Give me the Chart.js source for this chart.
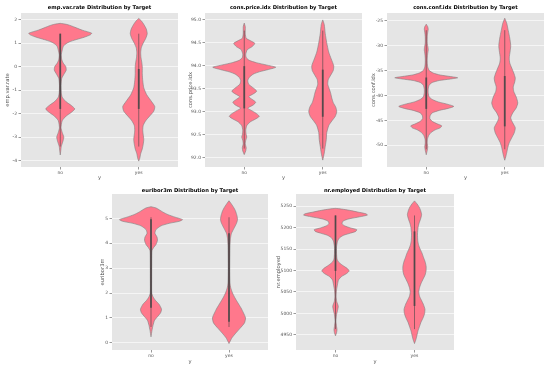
<!DOCTYPE html>
<html><head><meta charset="utf-8">
<script src="https://cdn.jsdelivr.net/npm/chart.js@4.4.1/dist/chart.umd.min.js"></script>
<style>
body{margin:0;background:#fff;width:550px;height:369px;overflow:hidden;position:relative;font-family:'DejaVu Sans',sans-serif}
canvas{position:absolute}
.t{position:absolute;width:200px;text-align:center;font-weight:bold;font-size:5.2px;line-height:6px;color:#000;white-space:nowrap;font-family:'DejaVu Sans',sans-serif}
</style>
</head><body>
<script>
// ---------- data ----------
const categories = ['no', 'yes'];

// emp.var.rate
const empTicks = ['-4','-3','-2','-1','0','1','2'];
const empNoY = [1.84,1.8,1.75,1.65,1.55,1.42,1.35,1.25,1.15,1.05,0.95,0.85,0.7,0.5,0.3,0.15,0,-0.15,-0.3,-0.5,-0.8,-1.1,-1.3,-1.5,-1.65,-1.8,-1.95,-2.1,-2.3,-2.6,-2.8,-3.0,-3.2,-3.4,-3.6,-3.76];
const empNoW = [0,0.076,0.127,0.204,0.28,0.401,0.382,0.306,0.204,0.115,0.064,0.038,0.025,0.013,0.019,0.038,0.07,0.076,0.051,0.019,0.01,0.013,0.025,0.076,0.14,0.185,0.14,0.076,0.025,0.01,0.025,0.045,0.032,0.013,0.006,0];
const empYesY = [2.05,1.95,1.8,1.6,1.4,1.2,1.0,0.8,0.6,0.4,0.2,0,-0.3,-0.6,-0.9,-1.2,-1.5,-1.7,-1.9,-2.1,-2.3,-2.5,-2.7,-2.9,-3.1,-3.3,-3.5,-3.7,-3.9,-4.02];
const empYesW = [0,0.032,0.064,0.096,0.108,0.089,0.057,0.032,0.025,0.028,0.038,0.045,0.045,0.051,0.064,0.102,0.166,0.204,0.191,0.14,0.089,0.057,0.051,0.057,0.064,0.057,0.045,0.025,0.013,0];
const empNoBox = [-1.8, 1.1, 1.4];      // q1, median, q3
const empYesBox = [-1.8, -1.8, -0.1];
const empNoWhisk = [-3.4, 1.4];
const empYesWhisk = [-3.4, 1.4];

// cons.price.idx
const priceTicks = ['92.0','92.5','93.0','93.5','94.0','94.5','95.0'];
const priceNoY = [94.93,94.85,94.7,94.6,94.55,94.49,94.42,94.35,94.25,94.18,94.12,94.07,94.02,93.97,93.92,93.87,93.82,93.75,93.68,93.6,93.52,93.45,93.39,93.33,93.27,93.21,93.15,93.08,93.02,92.95,92.9,92.84,92.78,92.7,92.6,92.5,92.45,92.38,92.3,92.22,92.15,92.07];
const priceNoW = [0,0.013,0.013,0.025,0.076,0.134,0.102,0.038,0.019,0.025,0.064,0.153,0.28,0.401,0.306,0.191,0.115,0.064,0.045,0.057,0.115,0.159,0.115,0.057,0.102,0.146,0.115,0.045,0.102,0.166,0.191,0.14,0.076,0.032,0.019,0.025,0.032,0.019,0.013,0.025,0.019,0];
const priceYesY = [95.0,94.9,94.7,94.5,94.3,94.15,94.0,93.9,93.8,93.7,93.6,93.5,93.4,93.3,93.2,93.1,93.0,92.9,92.8,92.7,92.55,92.4,92.25,92.1,91.95];
const priceYesW = [0,0.019,0.032,0.051,0.076,0.108,0.14,0.134,0.102,0.07,0.064,0.083,0.102,0.115,0.134,0.166,0.178,0.159,0.115,0.076,0.051,0.045,0.032,0.019,0];
const priceNoBox = [93.075, 93.918, 93.994];
const priceYesBox = [92.893, 93.2, 93.918];
const priceNoWhisk = [92.201, 94.767];
const priceYesWhisk = [92.201, 94.767];

// cons.conf.idx
const confTicks = ['-50','-45','-40','-35','-30','-25'];
const confNoY = [-25.7,-26.2,-26.7,-27.3,-28.2,-29.5,-30.4,-30.9,-31.5,-32.5,-33.5,-34.3,-35,-35.5,-35.9,-36.2,-36.45,-36.7,-37,-37.4,-37.9,-38.7,-39.5,-40.3,-40.8,-41.3,-41.8,-42.2,-42.6,-43,-43.5,-44,-44.6,-45.2,-45.7,-46.1,-46.5,-46.9,-47.4,-48,-48.8,-49.6,-50.3,-51,-51.9];
const confNoW = [0,0.019,0.025,0.019,0.013,0.013,0.023,0.025,0.019,0.013,0.013,0.019,0.038,0.089,0.178,0.306,0.401,0.306,0.166,0.076,0.038,0.025,0.025,0.038,0.076,0.153,0.28,0.35,0.28,0.166,0.076,0.051,0.045,0.076,0.14,0.197,0.178,0.115,0.064,0.032,0.015,0.013,0.019,0.013,0];
const confYesY = [-24.5,-25.5,-27,-28.5,-30,-31,-32.5,-33.5,-34.5,-35.5,-36.5,-37.3,-38.3,-39.2,-40.3,-41.5,-42.5,-43.5,-44.5,-45.5,-46.5,-47.5,-48.5,-49.5,-50.5,-51.5,-52.3,-53];
const confYesW = [0,0.025,0.045,0.064,0.076,0.07,0.057,0.064,0.089,0.115,0.134,0.127,0.108,0.115,0.146,0.166,0.146,0.102,0.076,0.102,0.134,0.121,0.089,0.057,0.038,0.025,0.013,0];
const confNoBox = [-42.7, -41.8, -36.4];
const confYesBox = [-46.2, -40.4, -36.1];
const confNoWhisk = [-50.8, -26.9];
const confYesWhisk = [-50.8, -26.9];

// euribor3m
const eurTicks = ['0','1','2','3','4','5'];
const eurNoY = [5.47,5.42,5.35,5.25,5.15,5.05,4.95,4.88,4.8,4.7,4.55,4.4,4.25,4.12,3.95,3.82,3.7,3.3,2.5,2.0,1.85,1.7,1.55,1.35,1.2,1.05,0.9,0.7,0.5,0.24];
const eurNoW = [0,0.064,0.103,0.154,0.218,0.308,0.404,0.359,0.231,0.128,0.064,0.051,0.077,0.083,0.064,0.032,0.013,0.01,0.009,0.01,0.026,0.058,0.103,0.135,0.122,0.083,0.045,0.026,0.013,0];
const eurYesY = [5.71,5.6,5.45,5.3,5.1,4.95,4.8,4.6,4.4,4.2,3.9,3.0,2.4,2.2,2.0,1.8,1.6,1.4,1.2,1.0,0.8,0.6,0.4,0.2,0.05,-0.03];
const eurYesW = [0,0.026,0.058,0.083,0.103,0.109,0.096,0.064,0.032,0.019,0.013,0.01,0.013,0.023,0.045,0.077,0.115,0.154,0.186,0.212,0.199,0.147,0.09,0.038,0.013,0];
const eurNoBox = [1.405, 4.857, 4.962];
const eurYesBox = [0.849, 1.266, 4.406];
const eurNoWhisk = [0.634, 5.045];
const eurYesWhisk = [0.634, 5.045];

// nr.employed
const nrTicks = ['4950','5000','5050','5100','5150','5200','5250'];
const nrNoY = [5244.6,5243,5240,5236,5232,5229,5225,5220,5215,5209,5204,5199,5195,5191,5187,5182,5176,5168,5155,5140,5127,5120,5112,5105,5099,5093,5086,5078,5068,5055,5040,5028,5017,5007,4997,4982,4970,4962,4955,4948];
const nrNoW = [0,0.077,0.179,0.282,0.385,0.404,0.308,0.167,0.096,0.083,0.115,0.192,0.269,0.256,0.192,0.103,0.051,0.026,0.013,0.013,0.019,0.038,0.09,0.147,0.173,0.141,0.077,0.038,0.026,0.013,0.008,0.015,0.035,0.026,0.013,0.006,0.013,0.019,0.013,0];
const nrYesY = [5262,5255,5248,5240,5230,5220,5210,5200,5185,5170,5160,5150,5140,5130,5120,5110,5100,5090,5080,5070,5060,5050,5040,5030,5020,5010,5000,4990,4980,4970,4960,4950,4940,4930];
const nrYesW = [0,0.032,0.058,0.077,0.09,0.077,0.058,0.045,0.038,0.041,0.051,0.071,0.096,0.115,0.135,0.147,0.147,0.135,0.109,0.083,0.064,0.054,0.064,0.09,0.115,0.132,0.128,0.109,0.083,0.064,0.045,0.032,0.019,0];
const nrNoBox = [5099.1, 5195.8, 5228.1];
const nrYesBox = [5017.5, 5099.1, 5191.0];
const nrNoWhisk = [4963.6, 5228.1];
const nrYesWhisk = [4963.6, 5228.1];

// ---------- styling / layout ----------
const FILL = 'rgb(255,120,140)';
const EDGE = '#808080';
const INNER = 'rgba(70,70,70,0.85)';
const FONT = "'DejaVu Sans', sans-serif";

const panels = [
  {title:'emp.var.rate Distribution by Target', ylabel:'emp.var.rate', ticks:empTicks, ymin:-4.27, ymax:2.28,
   v:[[empNoY,empNoW,empNoBox,empNoWhisk],[empYesY,empYesW,empYesBox,empYesWhisk]],
   left:0, top:0, w:183, h:183, area:[21,178,13,167], ypad:4.8, titleY:3.6},
  {title:'cons.price.idx Distribution by Target', ylabel:'cons.price.idx', ticks:priceTicks, ymin:91.8, ymax:95.15,
   v:[[priceNoY,priceNoW,priceNoBox,priceNoWhisk],[priceYesY,priceYesW,priceYesBox,priceYesWhisk]],
   left:183, top:0, w:183, h:183, area:[205,362,13,167], ypad:4.2, titleY:3.6},
  {title:'cons.conf.idx Distribution by Target', ylabel:'cons.conf.idx', ticks:confTicks, ymin:-54.36, ymax:-23.45,
   v:[[confNoY,confNoW,confNoBox,confNoWhisk],[confYesY,confYesW,confYesBox,confYesWhisk]],
   left:366, top:0, w:184, h:183, area:[387,544,13,167], ypad:4.2, titleY:3.6},
  {title:'euribor3m Distribution by Target', ylabel:'euribor3m', ticks:eurTicks, ymin:-0.29, ymax:5.98,
   v:[[eurNoY,eurNoW,eurNoBox,eurNoWhisk],[eurYesY,eurYesW,eurYesBox,eurYesWhisk]],
   left:91, top:183, w:183, h:184, area:[112,268,194,350], ypad:8.6, titleY:187},
  {title:'nr.employed Distribution by Target', ylabel:'nr.employed', ticks:nrTicks, ymin:4915, ymax:5278,
   v:[[nrNoY,nrNoW,nrNoBox,nrNoWhisk],[nrYesY,nrYesW,nrYesBox,nrYesWhisk]],
   left:274, top:183, w:186, h:184, area:[296,454,194,350], ypad:1.6, titleY:187}
];

const bgPlugin = {
  id:'bg',
  beforeDraw(chart){
    const a = chart.chartArea, ctx = chart.ctx;
    ctx.save(); ctx.fillStyle = '#e5e5e5';
    ctx.fillRect(a.left, a.top, a.right - a.left, a.bottom - a.top);
    ctx.restore();
  }
};

function makePanel(p){
  const cv = document.createElement('canvas');
  cv.width = p.w; cv.height = p.h;
  cv.style.left = p.left + 'px'; cv.style.top = p.top + 'px';
  cv.style.width = p.w + 'px'; cv.style.height = p.h + 'px';
  document.body.appendChild(cv);

  const t = document.createElement('div');
  t.className = 't';
  t.textContent = p.title;
  t.style.left = ((p.area[0] + p.area[1]) / 2 - 100) + 'px';
  t.style.top = p.titleY + 'px';
  document.body.appendChild(t);

  const datasets = [];
  p.v.forEach((vi, i) => {
    const [ys, ws, box, whisk] = vi;
    const n = Math.min(ys.length, ws.length);
    const pts = [];
    for (let k = 0; k < n; k++) pts.push({x: i + ws[k], y: ys[k]});
    for (let k = n - 1; k >= 0; k--) pts.push({x: i - ws[k], y: ys[k]});
    pts.push({x: pts[0].x, y: pts[0].y});
    datasets.push({data: pts, fill: 'shape', backgroundColor: FILL, borderColor: EDGE, borderWidth: 0.6,
                   pointRadius: 0, tension: 0.2, order: 4});
    datasets.push({data: [{x: i, y: whisk[0]}, {x: i, y: whisk[1]}], fill: false, borderColor: INNER,
                   borderWidth: 0.7, pointRadius: 0, order: 3});
    datasets.push({data: [{x: i, y: box[0]}, {x: i, y: box[2]}], fill: false, borderColor: INNER,
                   borderWidth: 1.8, pointRadius: 0, order: 2});
  });

  const yW = p.area[0] - p.left;
  const xH = p.top + p.h - p.area[3];
  new Chart(cv, {
    type: 'line',
    data: {datasets},
    plugins: [bgPlugin],
    options: {
      responsive: false, animation: false, devicePixelRatio: 1,
      events: [],
      layout: {padding: {left: 0, right: p.left + p.w - p.area[1], top: p.area[2] - p.top, bottom: 0}},
      plugins: {legend: {display: false}, tooltip: {enabled: false}, title: {display: false}},
      scales: {
        x: {
          type: 'linear', min: -0.5, max: 1.5,
          afterBuildTicks: s => { s.ticks = categories.map((c, i) => ({value: i})); },
          ticks: {callback: v => categories[v], font: {size: 4.5, family: FONT}, color: '#555', padding: 1, autoSkip: false, maxRotation: 0},
          grid: {drawOnChartArea: false, drawTicks: true, tickLength: 2.5, tickColor: '#555', lineWidth: 0.6},
          border: {display: false},
          title: {display: true, text: 'y', color: '#555', font: {size: 5.2, family: FONT}, padding: {top: 2.2, bottom: 2.2}},
          afterFit: s => { s.height = xH; }
        },
        y: {
          type: 'linear', min: p.ymin, max: p.ymax,
          afterBuildTicks: s => { s.ticks = p.ticks.map(l => ({value: Number(l)})); },
          ticks: {callback: v => { const f = p.ticks.find(l => Number(l) === v); return f !== undefined ? f : ''; },
                  font: {size: 4.5, family: FONT}, color: '#555', padding: 1.5, autoSkip: false},
          grid: {color: '#ffffff', lineWidth: 0.6, tickColor: '#555', tickLength: 2.5},
          border: {display: false},
          title: {display: true, text: p.ylabel, color: '#555', font: {size: 5.2, family: FONT}, padding: {top: p.ypad, bottom: p.ypad}},
          afterFit: s => { s.width = yW; }
        }
      }
    }
  });
}

panels.forEach(makePanel);
</script>
</body></html>
